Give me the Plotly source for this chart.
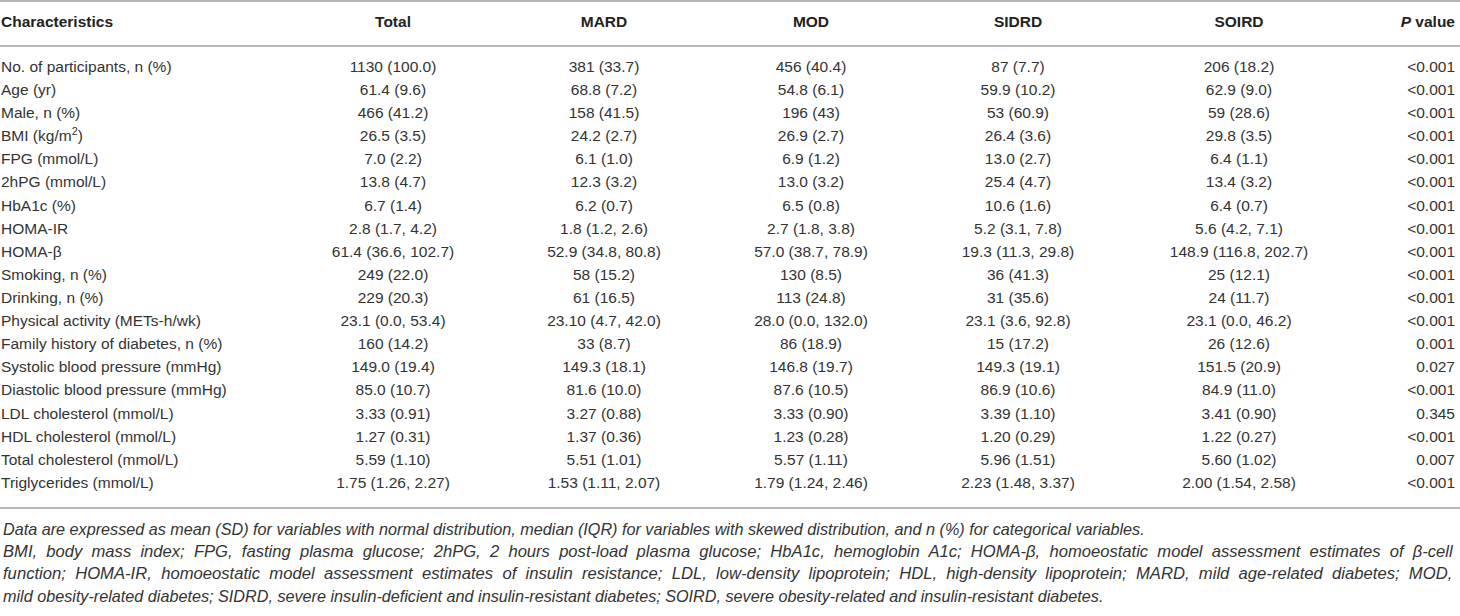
# -*- coding: utf-8 -*-
"""
Baseline characteristics table of the diabetes subgroups, drawn with plotly.
"""

#%% Import necessary libraries
import plotly.graph_objects as go

#%% Data
columns = ["Characteristics", "Total", "MARD", "MOD", "SIDRD", "SOIRD", "<i>P</i> value"]

characteristics = [
    "No. of participants, n (%)", "Age (yr)", "Male, n (%)", "BMI (kg/m<sup>2</sup>)",
    "FPG (mmol/L)", "2hPG (mmol/L)", "HbA1c (%)", "HOMA-IR", "HOMA-β",
    "Smoking, n (%)", "Drinking, n (%)", "Physical activity (METs-h/wk)",
    "Family history of diabetes, n (%)", "Systolic blood pressure (mmHg)",
    "Diastolic blood pressure (mmHg)", "LDL cholesterol (mmol/L)",
    "HDL cholesterol (mmol/L)", "Total cholesterol (mmol/L)", "Triglycerides (mmol/L)",
]
total = [
    "1130 (100.0)", "61.4 (9.6)", "466 (41.2)", "26.5 (3.5)", "7.0 (2.2)", "13.8 (4.7)",
    "6.7 (1.4)", "2.8 (1.7, 4.2)", "61.4 (36.6, 102.7)", "249 (22.0)", "229 (20.3)",
    "23.1 (0.0, 53.4)", "160 (14.2)", "149.0 (19.4)", "85.0 (10.7)", "3.33 (0.91)",
    "1.27 (0.31)", "5.59 (1.10)", "1.75 (1.26, 2.27)",
]
mard = [
    "381 (33.7)", "68.8 (7.2)", "158 (41.5)", "24.2 (2.7)", "6.1 (1.0)", "12.3 (3.2)",
    "6.2 (0.7)", "1.8 (1.2, 2.6)", "52.9 (34.8, 80.8)", "58 (15.2)", "61 (16.5)",
    "23.10 (4.7, 42.0)", "33 (8.7)", "149.3 (18.1)", "81.6 (10.0)", "3.27 (0.88)",
    "1.37 (0.36)", "5.51 (1.01)", "1.53 (1.11, 2.07)",
]
mod = [
    "456 (40.4)", "54.8 (6.1)", "196 (43)", "26.9 (2.7)", "6.9 (1.2)", "13.0 (3.2)",
    "6.5 (0.8)", "2.7 (1.8, 3.8)", "57.0 (38.7, 78.9)", "130 (8.5)", "113 (24.8)",
    "28.0 (0.0, 132.0)", "86 (18.9)", "146.8 (19.7)", "87.6 (10.5)", "3.33 (0.90)",
    "1.23 (0.28)", "5.57 (1.11)", "1.79 (1.24, 2.46)",
]
sidrd = [
    "87 (7.7)", "59.9 (10.2)", "53 (60.9)", "26.4 (3.6)", "13.0 (2.7)", "25.4 (4.7)",
    "10.6 (1.6)", "5.2 (3.1, 7.8)", "19.3 (11.3, 29.8)", "36 (41.3)", "31 (35.6)",
    "23.1 (3.6, 92.8)", "15 (17.2)", "149.3 (19.1)", "86.9 (10.6)", "3.39 (1.10)",
    "1.20 (0.29)", "5.96 (1.51)", "2.23 (1.48, 3.37)",
]
soird = [
    "206 (18.2)", "62.9 (9.0)", "59 (28.6)", "29.8 (3.5)", "6.4 (1.1)", "13.4 (3.2)",
    "6.4 (0.7)", "5.6 (4.2, 7.1)", "148.9 (116.8, 202.7)", "25 (12.1)", "24 (11.7)",
    "23.1 (0.0, 46.2)", "26 (12.6)", "151.5 (20.9)", "84.9 (11.0)", "3.41 (0.90)",
    "1.22 (0.27)", "5.60 (1.02)", "2.00 (1.54, 2.58)",
]
p_values = [
    "&lt;0.001", "&lt;0.001", "&lt;0.001", "&lt;0.001", "&lt;0.001", "&lt;0.001",
    "&lt;0.001", "&lt;0.001", "&lt;0.001", "&lt;0.001", "&lt;0.001", "&lt;0.001",
    "0.001", "0.027", "&lt;0.001", "0.345", "&lt;0.001", "0.007", "&lt;0.001",
]

footnotes = [
    "Data are expressed as mean (SD) for variables with normal distribution, median (IQR) for variables with skewed distribution, and n (%) for categorical variables.",
    "BMI, body mass index; FPG, fasting plasma glucose; 2hPG, 2 hours post-load plasma glucose; HbA1c, hemoglobin A1c; HOMA-β, homoeostatic model assessment estimates of β-cell",
    "function; HOMA-IR, homoeostatic model assessment estimates of insulin resistance; LDL, low-density lipoprotein; HDL, high-density lipoprotein; MARD, mild age-related diabetes; MOD,",
    "mild obesity-related diabetes; SIDRD, severe insulin-deficient and insulin-resistant diabetes; SOIRD, severe obesity-related and insulin-resistant diabetes.",
]
justified = [False, True, True, False]   # lines 2-3 are justified in the source

#%% Layout settings (pixels)
W, H = 1460, 616
colX = [1, 393, 604, 811, 1018, 1239, 1455]
colPos = ["middle right", "middle center", "middle center", "middle center",
          "middle center", "middle center", "middle left"]
rowTop, rowBottom = 68, 484      # first / last data row centres
rowStep = (rowBottom - rowTop) / (len(characteristics) - 1)
headerY = 23
ruleYs = [1, 46, 508]
noteY0, noteStep = 529, 22.3
noteSizes = [16.2, 16.6, 16.65, 16.2]
fontBody = "Liberation Sans, Arial, sans-serif"
textColor = "#333333"

def toRow(px):
    return (px - rowTop) / rowStep

#%% Build traces
tableCols = [characteristics, total, mard, mod, sidrd, soird, p_values]
rowIdx = list(range(len(characteristics)))
tracesList = []
for idx, col in enumerate(tableCols):
    tracesList.append(
        go.Scatter(
            x=[colX[idx]] * len(col),
            y=rowIdx,
            text=col,
            mode="text",
            textposition=colPos[idx],
            textfont=dict(family=fontBody, size=15.5, color=textColor),
            hoverinfo="skip",
            showlegend=False,
            cliponaxis=False,
        )
    )
# Header row
for idx, name in enumerate(columns):
    tracesList.append(
        go.Scatter(
            x=[colX[idx]],
            y=[toRow(headerY)],
            text=["<b>" + name + "</b>"],
            mode="text",
            textposition=colPos[idx],
            textfont=dict(family=fontBody, size=15.5, color="#222222"),
            hoverinfo="skip",
            showlegend=False,
            cliponaxis=False,
        )
    )

fig = go.Figure(data=tracesList)

# Horizontal rules
for ry in ruleYs:
    fig.add_shape(type="line", xref="paper", yref="paper", x0=0, x1=1,
                  y0=1 - ry / H, y1=1 - ry / H, line=dict(color="#a0a0a0", width=1.3))

# Footnotes (justified lines get a doubled word gap)
for idx, note in enumerate(footnotes):
    if justified[idx]:
        note = "\u00a0 ".join(note.split(" "))
    fig.add_annotation(
        text="<i>" + note + "</i>",
        xref="paper", yref="paper", x=1 / W, y=1 - (noteY0 + idx * noteStep) / H,
        xanchor="left", yanchor="middle", showarrow=False,
        font=dict(family=fontBody, size=noteSizes[idx], color=textColor),
    )

fig.update_layout(
    width=W, height=H,
    margin=dict(l=0, r=0, t=0, b=0),
    paper_bgcolor="white", plot_bgcolor="white",
    xaxis=dict(range=[0, W], visible=False, fixedrange=True),
    yaxis=dict(range=[toRow(H), toRow(0)], visible=False, fixedrange=True),
)
fig.write_html("out.html", config=dict(displayModeBar=False),
               post_script="document.body.style.margin='0';document.body.style.overflow='hidden';")
